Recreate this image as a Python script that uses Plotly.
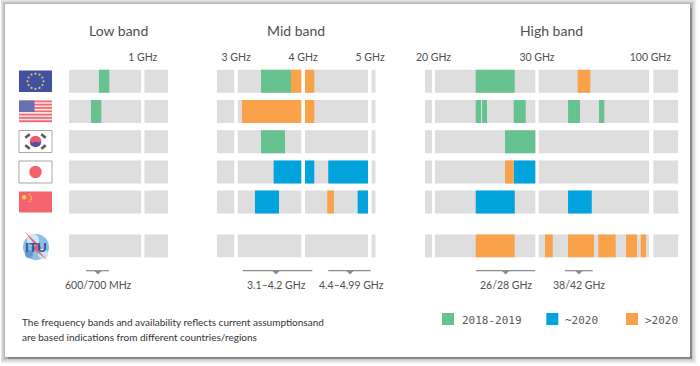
import math
import plotly.graph_objects as go

W, H = 700, 366

# Row positions on the shared y axis (0=EU, 1=US, 2=KR, 3=JP, 4=CN, 5.45=ITU)
row_positions = [0, 1, 2, 3, 4, 5.45]

# Available spectrum axis segments (grey background), per band
low_segments = [(0.433, 0.987), (1.013, 1.194)]                 # GHz
mid_segments = [(2.71, 2.972), (3.023, 3.972), (4.028, 4.968), (5.023, 5.083)]  # GHz
high_segments = [(19.18, 19.86), (20.14, 29.84), (30.16, 40.82), (41.24, 43.65)]  # schematic axis units

# Allocations: (row index, start, end)
low_green = [(0, 0.663, 0.743), (1, 0.602, 0.681)]
low_blue = []
low_orange = []

mid_green = [(0, 3.371, 3.819), (2, 3.371, 3.729)]
mid_blue = [(3, 3.56, 3.972), (3, 4.028, 4.166), (3, 4.375, 4.968),
            (4, 3.281, 3.64), (4, 4.814, 4.968)]
mid_orange = [(0, 3.819, 3.972), (0, 4.028, 4.166), (1, 3.087, 3.972), (1, 4.028, 4.166),
              (4, 4.36, 4.46)]

high_green = [(0, 24.08, 27.85), (1, 24.08, 24.59), (1, 24.69, 25.17), (1, 27.75, 28.91),
              (1, 33.0, 34.15), (1, 35.99, 36.5), (2, 26.91, 29.84)]
high_blue = [(3, 27.75, 29.84), (4, 24.08, 27.85), (4, 33.0, 35.29)]
high_orange = [(0, 33.93, 35.15), (3, 26.91, 27.75), (5, 24.08, 27.85), (5, 30.77, 31.52),
               (5, 33.0, 35.51), (5, 35.92, 37.6), (5, 38.6, 39.66), (5, 40.02, 40.53)]

# Axis ticks
low_tickvals, low_ticktext = [1.0], ["1 GHz"]
mid_tickvals, mid_ticktext = [3, 4, 5], ["3 GHz", "4 GHz", "5 GHz"]
high_tickvals, high_ticktext = [20, 30, 40.95], ["20 GHz", "30 GHz", "100 GHz"]

# Text
band_titles = ["Low band", "Mid band", "High band"]
bracket_labels = ["600/700 MHz", "3.1–4.2 GHz", "4.4–4.99 GHz", "26/28 GHz", "38/42 GHz"]
legend_labels = ["2018-2019", "~2020", ">2020"]
footnote_lines = ["The frequency bands and availability reflects current assumptionsand",
                  "are based indications from different countries/regions"]

GREY, GREEN, BLUE, ORANGE = "#dedede", "#66c28e", "#00a3dc", "#f9a24a"
TXT = "#4f4f4f"
FONT = "Lato"
BAR_W = 0.76


def y_val(px):
    return (px - 81.3) / 30.2


fig = go.Figure()


def add_bars(items, color, axis, name):
    if not items:
        return
    fig.add_trace(go.Bar(
        orientation="h", name=name, showlegend=False,
        y=[row_positions[i[0]] for i in items],
        base=[i[1] for i in items],
        x=[i[2] - i[1] for i in items],
        width=BAR_W, marker=dict(color=color, line=dict(width=0)),
        xaxis=axis, yaxis="y", hoverinfo="skip",
    ))


bands = [
    ("x", low_segments, low_green, low_blue, low_orange),
    ("x2", mid_segments, mid_green, mid_blue, mid_orange),
    ("x3", high_segments, high_green, high_blue, high_orange),
]
for axis, segs, g, b, o in bands:
    grey_items = [(r, s[0], s[1]) for r in range(len(row_positions)) for s in segs]
    add_bars(grey_items, GREY, axis, "available")
    add_bars(g, GREEN, axis, legend_labels[0])
    add_bars(b, BLUE, axis, legend_labels[1])
    add_bars(o, ORANGE, axis, legend_labels[2])

shapes = []
annotations = []


def rect(x0, y0, x1, y1, fill, line=None, lw=0, layer="below"):
    shapes.append(dict(type="rect", xref="paper", yref="paper", layer=layer,
                       x0=x0 / W, x1=x1 / W, y0=1 - y0 / H, y1=1 - y1 / H,
                       fillcolor=fill, line=dict(color=line or fill, width=lw)))


def circle(cx, cy, r, fill, ry=None):
    ry = ry or r
    shapes.append(dict(type="circle", xref="paper", yref="paper", layer="above",
                       x0=(cx - r) / W, x1=(cx + r) / W, y0=1 - (cy - ry) / H, y1=1 - (cy + ry) / H,
                       fillcolor=fill, line=dict(width=0)))


def path(pts, fill=None, color=None, lw=1):
    d = "M" + " L".join(f"{x / W:.5f},{1 - y / H:.5f}" for x, y in pts)
    if fill:
        d += " Z"
    shapes.append(dict(type="path", xref="paper", yref="paper", layer="above", path=d,
                       fillcolor=fill or "rgba(0,0,0,0)",
                       line=dict(color=color or "rgba(0,0,0,0)", width=lw if color else 0)))


def text(x, y, s, size=11, color=TXT, anchor="center", font=FONT, align=None):
    annotations.append(dict(xref="paper", yref="paper", x=x / W, y=1 - y / H, text=s,
                            showarrow=False, xanchor=anchor, yanchor="middle",
                            align=align or anchor,
                            font=dict(size=size, color=color, family=font)))


# Card shadow: soft on the top/left, darker on the right/bottom
for k, a in enumerate([0.04, 0.05, 0.06, 0.07, 0.09, 0.11, 0.14]):
    d = 6 - k
    rect(5 - min(d, 4), 4 - min(d, 4), 690 + d + 1, 357 + d + 1, f"rgba(50,50,50,{a})")
rect(690, 8, 692, 358, "rgba(70,70,70,0.35)")
rect(8, 357, 692, 359, "rgba(70,70,70,0.35)")
rect(5, 4, 690, 357, "#ffffff")

# Flags
FX0, FX1 = 19, 52
# EU
rect(FX0, 70.5, FX1, 92, "#41509f", layer="above")
for i in range(12):
    a = 2 * math.pi * i / 12
    circle(35.5 + 8 * math.cos(a), 81.3 + 7.6 * math.sin(a), 1.1, "#d9c56a")
# US
rect(FX0, 100.5, FX1, 123, "#fbe3e3", layer="above")
for k in range(7):
    y0 = 100.5 + k * 3.3
    rect(FX0, y0, FX1, y0 + 1.7, "#f16c75", layer="above")
rect(FX0, 100.5, 34.5, 112, "#6672b0", layer="above")
# Korea
rect(FX0, 130.5, FX1, 152.5, "#ffffff", line="#a9a9a9", lw=1, layer="above")
circle(35.5, 141.5, 5.8, "#f0566a")
path([(29.7, 141.5), (32, 143), (35.5, 141.8), (39, 142.5), (41.3, 141.5),
      (40, 145.5), (35.5, 147.3), (31, 145.5)], fill="#4a55ad")
for (x, y, dx, dy) in [(27.5, 136, 2.2, -1.8), (43.5, 136, 2.2, 1.8), (27.5, 147, 2.2, 1.8), (43.5, 147, 2.2, -1.8)]:
    path([(x - dx, y - dy), (x + dx, y + dy)], color="#555555", lw=2.6)
# Japan
rect(FX0, 161, FX1, 183, "#ffffff", line="#a9a9a9", lw=1, layer="above")
circle(35.5, 172, 6.2, "#f4606e")
# China
rect(FX0, 191.5, FX1, 212.5, "#f4646f", layer="above")
circle(24.2, 197.3, 2.3, "#f3c64a")
for (x, y) in [(29.5, 194.5), (31.2, 196.8), (31.2, 199.5), (29.5, 201.6)]:
    circle(x, y, 0.9, "#f3c64a")
# ITU
circle(36, 247, 13, "#8fbde3")
circle(33, 240, 6, "#d4e6f5")
circle(43, 254, 5, "#cfe2f3")
circle(29, 254, 4, "#5f9bd5")
path([(24, 231), (36, 246), (31, 247), (47, 260), (38, 250), (42, 248)], fill="#ee5a66")
text(36, 247, "<b>ITU</b>", size=13.5, color="#1f5fa8", font="Liberation Sans")

# Titles
for t, cx in zip(band_titles, [118.5, 296, 551.5]):
    text(cx, 31, t, size=14)

# Brackets
brackets = [(86, 109, 98), (242.7, 312.3, 276), (328.3, 370.7, 350), (476, 535.3, 505.7), (565, 592.7, 579)]
label_cx = [98, 276, 351.5, 505.7, 579.3]
for (x0, x1, xc), lbl, cx in zip(brackets, bracket_labels, label_cx):
    path([(x0, 270.7), (x1, 270.7)], color="#8a8a8a", lw=1.2)
    path([(xc - 3.5, 271), (xc + 3.5, 271), (xc, 274.5)], fill="#8a8a8a")
    text(cx, 285, lbl, size=10.5)

# Legend
for x0, c, tx, lbl in zip([442, 546.3, 626], [GREEN, BLUE, ORANGE], [460, 563, 643], legend_labels):
    rect(x0, 313, x0 + 12, 325, c, layer="above")
    text(tx, 320, lbl, size=11, color="#5a5a5a", anchor="left", font="DejaVu Sans Mono")

# Footnote
for line, y in zip(footnote_lines, [322, 337]):
    text(20, y, line, size=10, color="#333333", anchor="left")

Y_TOP, Y_BOT = 64.5, 262


def xaxis(dom0, dom1, rng, tv, tt):
    return dict(domain=[dom0 / W, dom1 / W], range=rng, anchor="y", side="top",
                tickmode="array", tickvals=tv, ticktext=tt, ticks="", showgrid=False,
                zeroline=False, showline=False, automargin=False,
                tickfont=dict(size=10.5, color=TXT, family=FONT))


fig.update_layout(
    width=W, height=H, autosize=False,
    margin=dict(l=0, r=0, t=0, b=0, pad=0),
    paper_bgcolor="#ffffff", plot_bgcolor="rgba(0,0,0,0)",
    barmode="overlay", showlegend=False,
    xaxis=xaxis(69, 168, [0.433, 1.194], low_tickvals, low_ticktext),
    xaxis2=xaxis(216.7, 375.7, [2.71, 5.083], mid_tickvals, mid_ticktext),
    xaxis3=xaxis(425, 678.3, [19.18, 43.65], high_tickvals, high_ticktext),
    yaxis=dict(domain=[1 - Y_BOT / H, 1 - Y_TOP / H], range=[y_val(Y_BOT), y_val(Y_TOP)],
               visible=False, anchor="x", fixedrange=True, automargin=False),
    shapes=shapes, annotations=annotations,
)

fig.write_html("out.html", config={"displayModeBar": False},
               post_script="document.body.style.margin='0';document.documentElement.style.overflow='hidden';")
